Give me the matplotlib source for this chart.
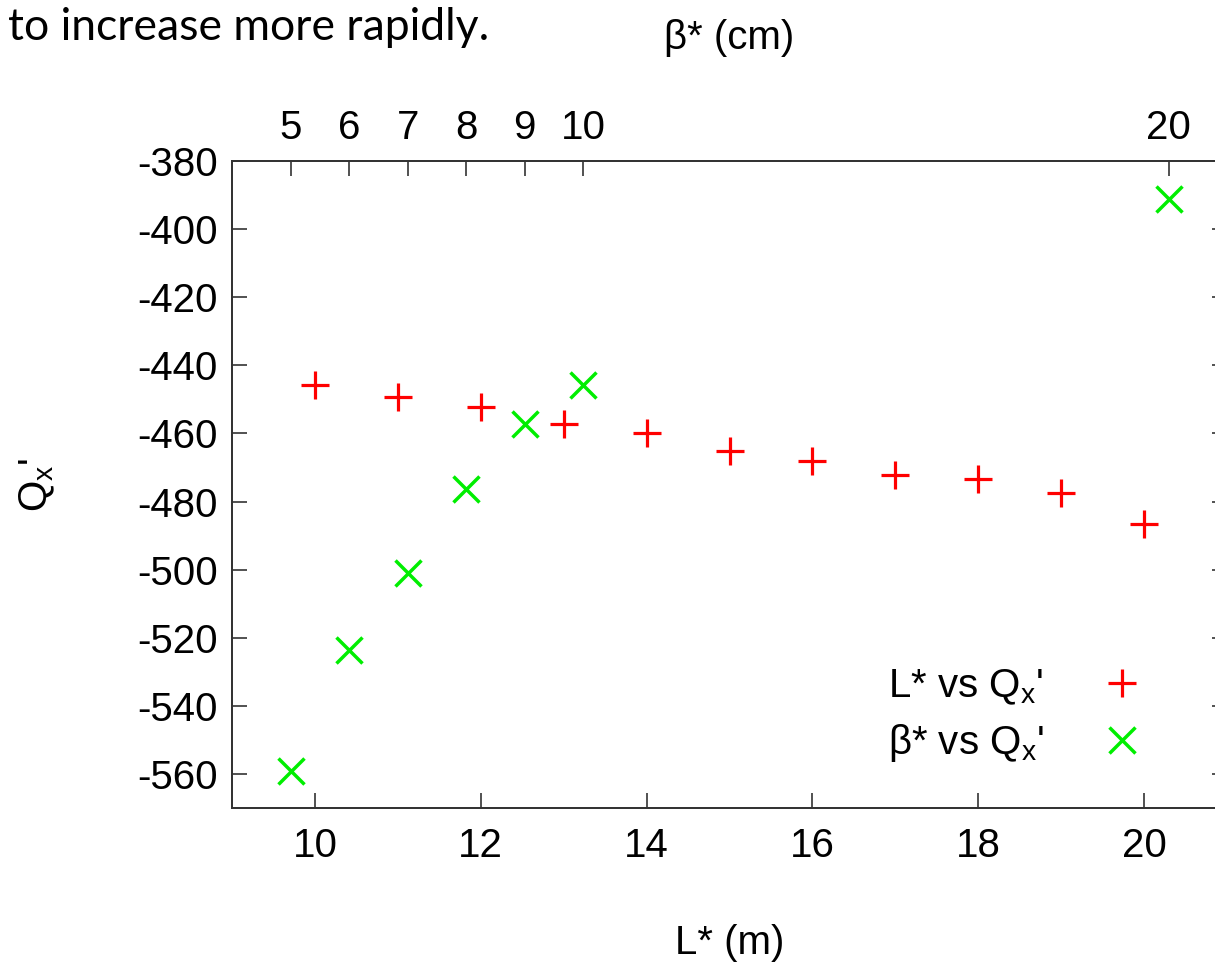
import matplotlib
matplotlib.use('Agg')
import matplotlib.pyplot as plt

# L* (m) vs Qx'
lstar = [10, 11, 12, 13, 14, 15, 16, 17, 18, 19, 20]
qx_l = [-445.7, -449.3, -452.2, -457.1, -460.0, -465.2, -468.1, -472.1, -473.3, -477.5, -486.6]

# beta* (cm) vs Qx'
beta = [5, 6, 7, 8, 9, 10, 20]
qx_b = [-559.2, -523.5, -501.0, -476.4, -457.1, -445.9, -391.2]

yticks = list(range(-560, -379, 20))
xticks = [10, 12, 14, 16, 18, 20]
bticks = [5, 6, 7, 8, 9, 10, 20]

plt.rcParams['font.family'] = ['Liberation Sans', 'DejaVu Sans']
plt.rcParams['mathtext.default'] = 'regular'
plt.rcParams['axes.unicode_minus'] = False

fig = plt.figure(figsize=(12.15, 9.67), dpi=100)
ax = fig.add_axes([0.19095, 0.16443, 0.819, 0.6691])
ax2 = ax.twiny()

fs = 29
edge = '#333333'

l1, = ax.plot(lstar, qx_l, ls='none', marker='+', ms=20, mew=2.3,
              color='#ff0000', label="L* vs Q$_x$'")
l2, = ax2.plot(beta, qx_b, ls='none', marker='x', ms=19, mew=2.5,
               color='#00ee00', label="β* vs Q$_x$'")

ax.set_xlim(9, 21)
ax2.set_xlim(4, 21)
ax.set_ylim(-570, -380)
ax.set_xticks(xticks)
ax2.set_xticks(bticks)
ax.set_yticks(yticks)

ax.tick_params(axis='both', direction='in', length=10.8, width=1.2,
               color=edge, labelsize=fs, right=True, top=False, pad=14)
ax.tick_params(axis='y', pad=10)
ax2.tick_params(axis='x', direction='in', length=10.8, width=1.2,
                color=edge, labelsize=fs, pad=10)
for a in (ax, ax2):
    for s in a.spines.values():
        s.set_color(edge)
        s.set_linewidth(1.3)

ax.set_xlabel('L* (m)', fontsize=fs, labelpad=42)
ax.set_ylabel("Q$_x$'", fontsize=fs, labelpad=58)
ax2.set_xlabel('β* (cm)', fontsize=fs, labelpad=43)

leg = ax.legend(handles=[l1, l2], loc='lower right', markerfirst=False,
                frameon=False, fontsize=fs, handlelength=1.2,
                labelspacing=0.38, handletextpad=1.35,
                bbox_to_anchor=(0.955, 0.012))

fig.text(0.0066, 0.972, 'to increase more rapidly.', fontsize=32,
         family=['Lato', 'DejaVu Sans'], va='center', ha='left')

fig.savefig('out.png', dpi=100)
